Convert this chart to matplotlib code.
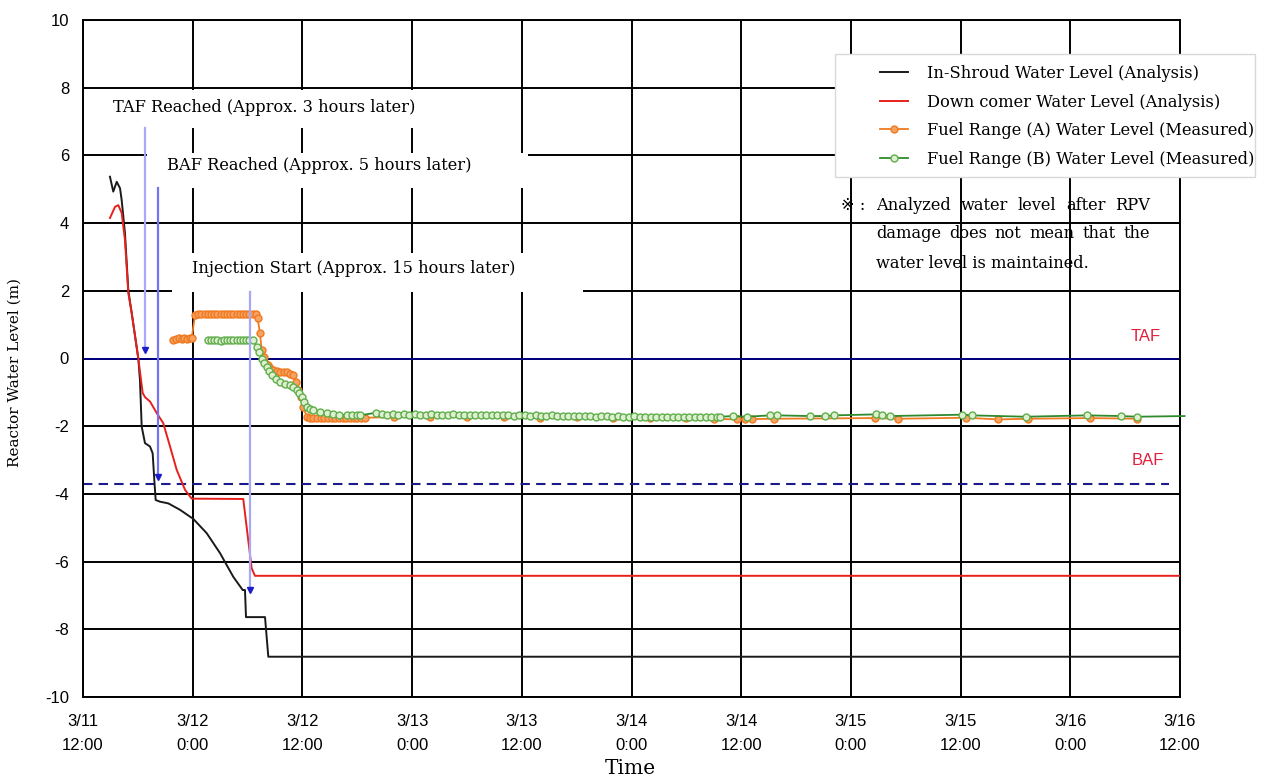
import matplotlib
matplotlib.use('Agg')
import matplotlib.pyplot as plt
from matplotlib.patches import Rectangle
from matplotlib.lines import Line2D

# ---------------- data (x = hours after 3/11 12:00, y = m) ----------------
tick_hours = [0, 12, 24, 36, 48, 60, 72, 84, 96, 108, 120]
tick_labels = ["3/11\n12:00", "3/12\n0:00", "3/12\n12:00", "3/13\n0:00", "3/13\n12:00",
               "3/14\n0:00", "3/14\n12:00", "3/15\n0:00", "3/15\n12:00", "3/16\n0:00",
               "3/16\n12:00"]
y_ticks = [-10, -8, -6, -4, -2, 0, 2, 4, 6, 8, 10]

shroud_t = [2.95, 3.31, 3.69, 4.05, 4.23, 4.59, 4.96, 5.33, 6.05, 6.23, 6.42, 6.78, 7.33,
            7.62, 7.80, 7.95, 8.42, 9.33, 10.61, 12.07, 13.53, 14.99, 16.44, 17.47, 17.72,
            17.83, 19.91, 20.27, 120.0]
shroud_v = [5.37, 4.93, 5.22, 5.03, 4.68, 3.70, 2.00, 1.34, 0.00, -0.63, -2.01, -2.50, -2.60,
            -2.80, -3.59, -4.18, -4.23, -4.28, -4.47, -4.74, -5.16, -5.75, -6.45, -6.84, -6.84,
            -7.64, -7.64, -8.81, -8.81]

downcomer_t = [2.95, 3.50, 3.86, 4.23, 4.59, 4.96, 5.33, 6.05, 6.53, 6.78, 7.33, 8.06, 8.78,
               9.52, 10.25, 11.16, 11.89, 17.53, 18.45, 18.81, 120.0]
downcomer_v = [4.15, 4.48, 4.53, 4.30, 3.50, 1.93, 1.34, 0.00, -1.02, -1.14, -1.27, -1.61, -1.91,
               -2.60, -3.29, -3.88, -4.14, -4.15, -6.20, -6.42, -6.42]

fuelA_t = [9.88, 10.2, 10.5, 10.8, 11.1, 11.4, 11.7, 11.89,
           12.25, 12.6, 12.95, 13.3, 13.65, 14.0, 14.35, 14.7, 15.05, 15.4, 15.75, 16.1, 16.45,
           16.8, 17.15, 17.5, 17.85, 18.2, 18.55, 18.9, 19.1,
           19.36, 19.55, 19.75, 19.91, 20.2, 20.5, 20.82, 21.2, 21.6, 22.0, 22.28, 22.65, 23.0,
           23.3, 23.55, 23.8, 24.1, 24.47,
           24.8, 25.2, 25.6, 26.0, 26.4, 26.8, 27.2, 27.6, 28.0, 28.4, 28.8, 29.2, 29.6, 30.0,
           30.4, 30.8,
           34.0, 38.0, 42.0, 46.0, 50.0, 54.0, 58.0, 62.0, 66.0, 69.0,
           71.5, 72.4, 73.2, 75.6, 86.6, 89.2, 96.6, 100.1, 103.4, 110.2, 115.3]
fuelA_v = [0.55, 0.58, 0.60, 0.58, 0.60, 0.58, 0.60, 0.60,
           1.28, 1.30, 1.30, 1.32, 1.30, 1.30, 1.32, 1.30, 1.30, 1.30, 1.32, 1.30, 1.30,
           1.30, 1.32, 1.30, 1.30, 1.30, 1.32, 1.30, 1.20,
           0.74, 0.25, 0.05, -0.14, -0.20, -0.28, -0.34, -0.37, -0.39, -0.39, -0.40, -0.45, -0.49,
           -0.70, -0.93, -1.15, -1.42, -1.72,
           -1.75, -1.75, -1.76, -1.75, -1.75, -1.76, -1.75, -1.75, -1.76, -1.75, -1.75, -1.76,
           -1.75, -1.75, -1.76, -1.75,
           -1.73, -1.72, -1.74, -1.73, -1.75, -1.74, -1.76, -1.75, -1.77, -1.78,
           -1.80, -1.80, -1.79, -1.78, -1.76, -1.78, -1.75, -1.80, -1.78, -1.76, -1.78]

fuelB_t = [13.67, 14.0, 14.35, 14.7, 15.05, 15.4, 15.75, 16.1, 16.45, 16.8, 17.15, 17.5, 17.85,
           18.2, 18.6,
           19.0, 19.3, 19.55, 19.8, 20.1, 20.4, 20.64, 21.1, 21.55, 22.1, 22.64, 23.0, 23.38,
           23.65, 23.92, 24.2, 24.47, 24.8, 25.19, 25.9, 26.66, 27.3, 28.0, 28.84, 29.4, 30.0,
           30.3,
           32.1, 32.7, 33.3, 33.9, 34.5, 35.1, 35.7, 36.3, 36.9, 37.5, 38.1, 38.7, 39.3, 39.9,
           40.5, 41.1, 41.7, 42.3, 42.9, 43.5, 44.1, 44.7, 45.3, 45.9, 46.5, 47.1, 47.7, 48.3,
           48.9, 49.5, 50.1, 50.7, 51.3, 51.9, 52.5, 53.1, 53.7, 54.3, 54.9, 55.5, 56.1, 56.7,
           57.3, 57.9, 58.5, 59.1, 59.7, 60.3, 60.9, 61.5, 62.1, 62.7, 63.3, 63.9, 64.5, 65.1,
           65.7, 66.3, 66.9, 67.5, 68.1, 68.7, 69.3, 69.7,
           71.1, 72.6, 75.2, 75.9, 79.5, 81.2, 82.1, 86.8, 87.4, 88.3, 96.1, 97.2, 103.1,
           109.8, 113.6, 115.3, 120.5]
fuelB_v = [0.55, 0.54, 0.56, 0.55, 0.53, 0.55, 0.56, 0.55, 0.54, 0.55, 0.56, 0.55, 0.54,
           0.55, 0.55,
           0.35, 0.20, 0.00, -0.12, -0.24, -0.38, -0.49, -0.60, -0.69, -0.74, -0.78, -0.85, -0.93,
           -1.02, -1.13, -1.28, -1.42, -1.48, -1.52, -1.58, -1.62, -1.64, -1.66, -1.67, -1.68,
           -1.68, -1.68,
           -1.60, -1.64, -1.66, -1.65, -1.66, -1.64, -1.66, -1.65, -1.67, -1.66, -1.65, -1.66,
           -1.67, -1.66, -1.65, -1.67, -1.66, -1.68, -1.66, -1.67, -1.68, -1.66, -1.67, -1.68,
           -1.67, -1.69, -1.68, -1.67, -1.69, -1.68, -1.70, -1.69, -1.68, -1.70, -1.69, -1.71,
           -1.70, -1.69, -1.71, -1.70, -1.72, -1.71, -1.70, -1.72, -1.71, -1.73, -1.72, -1.71,
           -1.73, -1.72, -1.74, -1.73, -1.72, -1.74, -1.73, -1.72, -1.74, -1.73, -1.72, -1.73,
           -1.72, -1.74, -1.73, -1.72,
           -1.70, -1.72, -1.68, -1.68, -1.70, -1.70, -1.68, -1.65, -1.67, -1.70, -1.66, -1.68,
           -1.72, -1.68, -1.70, -1.72, -1.70]

TAF_level = 0.0
BAF_level = -3.7

event_labels = ["TAF Reached (Approx. 3 hours later)",
                "BAF Reached (Approx. 5 hours later)",
                "Injection Start (Approx. 15 hours later)"]
event_t = [6.8, 8.2, 18.3]          # arrow positions (hours)
event_tip = [0.25, -3.5, -6.85]     # arrow tips (m)

legend_labels = ["In-Shroud Water Level (Analysis)",
                 "Down comer Water Level (Analysis)",
                 "Fuel Range (A) Water Level (Measured)",
                 "Fuel Range (B) Water Level (Measured)"]
note_lines = ["Analyzed water level after RPV",
              "damage does not mean that the",
              "water level is maintained."]

# ---------------- figure ----------------
W, H = 1261, 778
fig = plt.figure(figsize=(W / 100, H / 100), dpi=100)
fig.patch.set_facecolor('white')
L, R, T, B = 83, 1180, 20, 697
ax = fig.add_axes([L / W, 1 - B / H, (R - L) / W, (B - T) / H])
ax.set_xlim(0, 120)
ax.set_ylim(-10, 10)

SERIF = ['DejaVu Serif', 'DejaVu Sans', 'Noto Sans CJK JP']
SANS = ['Liberation Sans', 'DejaVu Sans']
FS = 11.7

ax.set_xticks(tick_hours)
ax.set_xticklabels(tick_labels, family=SANS, fontsize=12, linespacing=1.75)
ax.set_yticks(y_ticks)
ax.set_yticklabels([str(v) for v in y_ticks], family=SANS, fontsize=12)
ax.tick_params(axis='both', length=0)
ax.tick_params(axis='x', pad=12)
ax.tick_params(axis='y', pad=10)
ax.set_axisbelow(True)
ax.grid(True, color='black', lw=1.4)
for s in ax.spines.values():
    s.set_color('black')
    s.set_linewidth(1.4)

# white text boxes that interrupt the grid (hours, m)
boxes = [(2.0, 6.80, 36.9, 7.92), (7.0, 5.03, 48.7, 6.08), (9.7, 1.95, 54.7, 3.12)]
for x0, y0, x1, y1 in boxes:
    ax.add_patch(Rectangle((x0, y0), x1 - x0, y1 - y0, facecolor='white',
                           edgecolor='none', zorder=1))

# TAF / BAF reference lines
ax.axhline(TAF_level, color='#000080', lw=1.4, zorder=1.5)
ax.axhline(BAF_level, xmax=0.99, color='#1a1a8c', lw=1.5, ls=(0, (4.5, 3)), zorder=1.5)
ax.text(116.3, 0.66, 'TAF', color='#e0203c', family=SANS, fontsize=12,
        ha='center', va='center')
ax.text(116.5, -3.0, 'BAF', color='#e0203c', family=SANS, fontsize=12,
        ha='center', va='center')

# series
ax.plot(shroud_t, shroud_v, color='#1a1a1a', lw=1.4, zorder=3)
ax.plot(downcomer_t, downcomer_v, color='#e8201c', lw=1.4, zorder=3)
ax.plot(fuelA_t, fuelA_v, color='#f07a20', lw=1.3, marker='o', ms=5, mec='#f07a20',
        mfc='#f6a262', mew=1.0, zorder=4)
ax.plot(fuelB_t, fuelB_v, color='#2f8a2f', lw=1.3, marker='o', ms=5, mec='#5fae4a',
        mfc='#dff0d2', mew=1.0, markevery=slice(0, len(fuelB_t) - 1), zorder=5,
        clip_on=False)

# event annotations
text_pos = [(3.31, 7.42), (9.16, 5.70), (11.89, 2.66)]
arrow_top = [6.80, 5.03, 1.95]
arrow_col = ['#a8a8f6', '#7474f0', '#a8a8f6']
for lab, (tx, ty), et, tip, top, c in zip(event_labels, text_pos, event_t, event_tip,
                                           arrow_top, arrow_col):
    ax.text(tx, ty, lab, family=SERIF, fontsize=FS, ha='left', va='center', zorder=6)
    ax.plot([et, et], [top, tip], color=c, lw=1.6, zorder=6)
    ax.plot([et], [tip], marker='v', ms=4.5, color='#1c1cc8', zorder=7)

# legend background (covers grid and right spine)
lx0, ly0, lx1, ly1 = 835, 54, 1255, 177
fig.patches.append(Rectangle((lx0 / W, 1 - ly1 / H), (lx1 - lx0) / W, (ly1 - ly0) / H,
                             transform=fig.transFigure, facecolor='white',
                             edgecolor='#d8d8d8', lw=1.0, zorder=3))
handles = [Line2D([], [], color='#1a1a1a', lw=1.4),
           Line2D([], [], color='#e8201c', lw=1.4),
           Line2D([], [], color='#f07a20', lw=1.3, marker='o', ms=5, mec='#f07a20',
                  mfc='#f6a262'),
           Line2D([], [], color='#2f8a2f', lw=1.3, marker='o', ms=5, mec='#5fae4a',
                  mfc='#dff0d2')]
leg = fig.legend(handles, legend_labels, loc='upper left',
                 bbox_to_anchor=(880 / W, 1 - 65 / H), frameon=False,
                 prop={'family': SERIF, 'size': FS}, handlelength=1.75,
                 handletextpad=1.15, labelspacing=0.71, borderpad=0, borderaxespad=0)
leg.set_zorder(4)

# note (justified lines)
renderer = fig.canvas.get_renderer()
fig.text(841 / W, 1 - 205 / H, '\u203b :', family=SERIF, fontsize=FS, ha='left',
         va='center', zorder=6)
note_y = [205, 234, 263]
nx0, nx1 = 876, 1150
for i, (line, py) in enumerate(zip(note_lines, note_y)):
    words = line.split(' ')
    if i < 2:
        arts, widths = [], []
        for w in words:
            t = fig.text(0, 1 - py / H, w, family=SERIF, fontsize=FS, ha='left',
                         va='center', zorder=6)
            arts.append(t)
            widths.append(t.get_window_extent(renderer).width)
        gap = (nx1 - nx0 - sum(widths)) / (len(words) - 1)
        x = nx0
        for t, wdt in zip(arts, widths):
            t.set_x(x / W)
            x += wdt + gap
    else:
        fig.text(nx0 / W, 1 - py / H, line, family=SERIF, fontsize=FS, ha='left',
                 va='center', zorder=6)

# axis titles
fig.text(15 / W, 1 - 372 / H, 'Reactor Water Level (m)', family=SERIF, fontsize=11,
         rotation=90, ha='center', va='center')
fig.text(630 / W, 1 - 768 / H, 'Time', family=SERIF, fontsize=14.5, ha='center',
         va='center')

fig.savefig('out.png', dpi=100)
